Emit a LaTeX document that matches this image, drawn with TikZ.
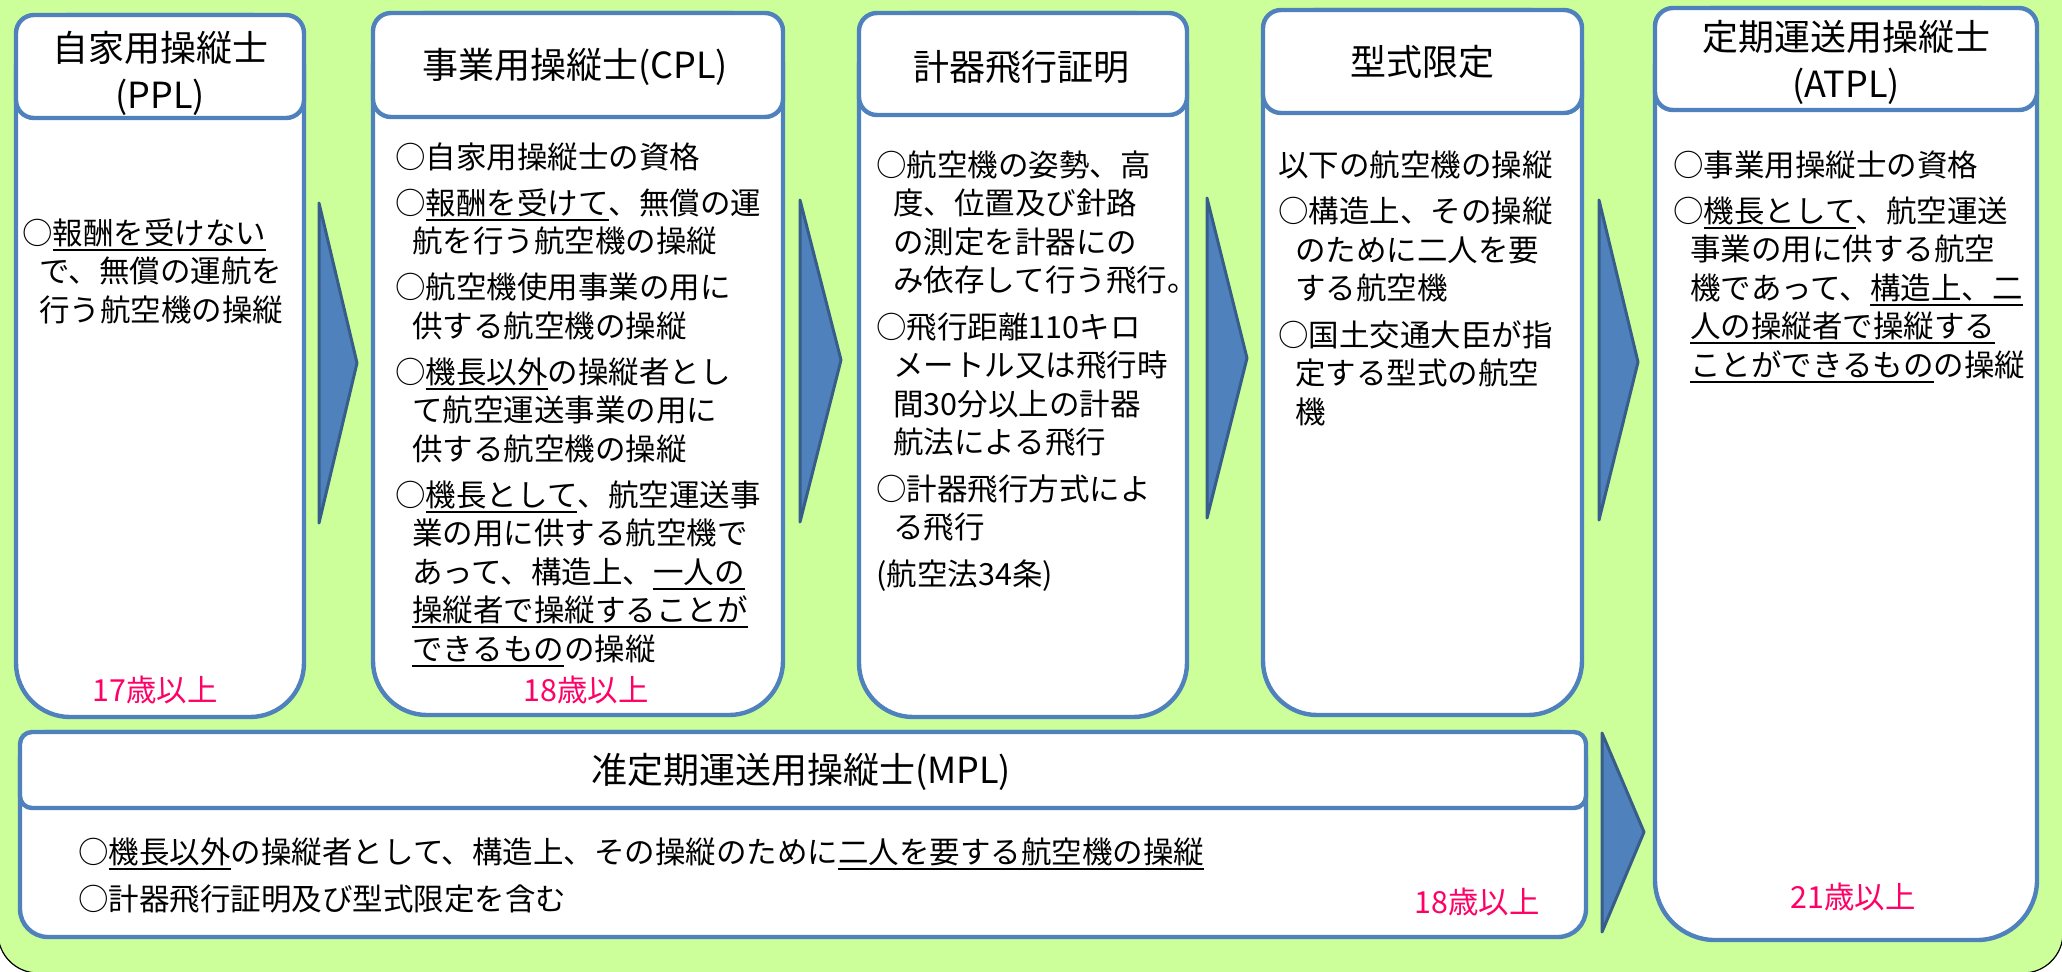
\documentclass[tikz,border=0pt]{standalone}
\usepackage{fontspec}
\setmainfont{Noto Sans CJK JP}
\definecolor{bg}{HTML}{CCFF99}
\definecolor{bline}{HTML}{4F81BD}
\definecolor{afill}{HTML}{4F81BD}
\definecolor{aline}{HTML}{385D8A}
\definecolor{agepink}{HTML}{FF0066}
\newcommand\indt{\hspace*{8.5pt}}
\newcommand\uln[1]{\setbox0\hbox{#1}\rlap{\rule[-3.3pt]{\wd0}{1.1pt}}\box0}
\newcommand\halfmaru{\makebox[0.5em][l]{。}}
\newenvironment{lines}{\renewcommand\arraystretch{1}\setlength\tabcolsep{0pt}\begin{tabular}{@{}l@{}}}{\end{tabular}}
\begin{document}
\begin{tikzpicture}[x=0.5pt,y=-0.5pt,
  boxline/.style={draw=bline, line width=2.2pt, fill=white},
  arrowshape/.style={draw=aline, fill=afill, line width=1.5pt, line join=round},
  title/.style={font=\fontsize{18}{23.5}\selectfont, align=center, inner sep=0pt},
  body/.style={font=\fontsize{15.25}{19.25}\selectfont, anchor=north west, inner sep=0pt},
  age/.style={font=\fontsize{15.2}{17}\selectfont, text=agepink, inner sep=0pt}]
\useasboundingbox (0,0) rectangle (2062,971);
% background
\draw[fill=bg, draw=black, line width=0.6pt, rounded corners=20pt] (-2,-60) rectangle (2063,973);
% PPL
\draw[boxline, rounded corners=27pt] (16,15) rectangle (304,717);
\draw[boxline, rounded corners=9pt] (16,15) rectangle (304,118);
% CPL
\draw[boxline, rounded corners=27pt] (373,13) rectangle (783,715);
\draw[boxline, rounded corners=9pt] (373,13) rectangle (783,117);
% Instrument
\draw[boxline, rounded corners=27pt] (859,13) rectangle (1187,717);
\draw[boxline, rounded corners=9pt] (859,13) rectangle (1187,115);
% Type rating
\draw[boxline, rounded corners=27pt] (1263,10) rectangle (1582,715);
\draw[boxline, rounded corners=9pt] (1263,10) rectangle (1582,113);
% ATPL
\draw[boxline, rounded corners=30pt] (1655,8) rectangle (2037,940);
\draw[boxline, rounded corners=9pt] (1655,8) rectangle (2037,110);
% MPL
\draw[boxline, rounded corners=14pt] (20,732) rectangle (1586,937);
\draw[boxline, rounded corners=6pt] (20,732) rectangle (1586,808);
% arrows
\draw[arrowshape] (319,203) -- (357,363) -- (319,523) -- cycle;
\draw[arrowshape] (800,200) -- (841,360) -- (800,522) -- cycle;
\draw[arrowshape] (1207,198) -- (1247,358) -- (1207,518) -- cycle;
\draw[arrowshape] (1599,200) -- (1638,362) -- (1599,520) -- cycle;
\draw[arrowshape] (1602,733) -- (1644,832) -- (1602,932) -- cycle;
% titles
\node[title] (pplT) at (160,73.5) {自家用操縦士\\(PPL)};
\node[title] (cplT) at (575,67) {事業用操縦士(CPL)};
\node[title] (insT) at (1021,67) {計器飛行証明};
\node[title] (typT) at (1422,62) {型式限定};
\node[title] (atpT) at (1846,62.5) {定期運送用操縦士\\(ATPL)};
\node[title] (mplT) at (801,772) {准定期運送用操縦士(MPL)};
% bodies
\node[body] (pplB) at (22,217) {\begin{lines}○\uln{報酬を受けない}\\
\indt で、無償の運航を\\
\indt 行う航空機の操縦\end{lines}};
\node[body] (cplB) at (395,141) {\begin{lines}○自家用操縦士の資格\\[3.75pt]
○\uln{報酬を受けて}、無償の運\\
\indt 航を行う航空機の操縦\\[3.75pt]
○航空機使用事業の用に\\
\indt 供する航空機の操縦\\[3.75pt]
○\uln{機長以外}の操縦者とし\\
\indt て航空運送事業の用に\\
\indt 供する航空機の操縦\\[3.75pt]
○\uln{機長として}、航空運送事\\
\indt 業の用に供する航空機で\\
\indt あって、構造上、\uln{一人の}\\
\indt \uln{操縦者で操縦することが}\\
\indt \uln{できるもの}の操縦\end{lines}};
\node[body] (insB) at (876,149) {\begin{lines}○航空機の姿勢、高\\
\indt 度、位置及び針路\\
\indt の測定を計器にの\\
\indt み依存して行う飛行\halfmaru\\[4pt]
○飛行距離110キロ\\
\indt メートル又は飛行時\\
\indt 間30分以上の計器\\
\indt 航法による飛行\\[4pt]
○計器飛行方式によ\\
\indt る飛行\\[4pt]
(航空法34条)\end{lines}};
\node[body] (typB) at (1278,149) {\begin{lines}以下の航空機の操縦\\[4pt]
○構造上、その操縦\\
\indt のために二人を要\\
\indt する航空機\\[4pt]
○国土交通大臣が指\\
\indt 定する型式の航空\\
\indt 機\end{lines}};
\node[body] (atpB) at (1673,149) {\begin{lines}○事業用操縦士の資格\\[3.75pt]
○\uln{機長として}、航空運送\\
\indt 事業の用に供する航空\\
\indt 機であって、\uln{構造上、二}\\
\indt \uln{人の操縦者で操縦する}\\
\indt \uln{ことができるもの}の操縦\end{lines}};
\node[body] (mplB) at (78,836) {\begin{lines}○\uln{機長以外}の操縦者として、構造上、その操縦のために\uln{二人を要する航空機の操縦}\\[4.25pt]
○計器飛行証明及び型式限定を含む\end{lines}};
% ages
\node[age] (pplA) at (155,690) {17歳以上};
\node[age] (cplA) at (586,690) {18歳以上};
\node[age] (mplA) at (1477,902) {18歳以上};
\node[age] (atpA) at (1853,897) {21歳以上};
\end{tikzpicture}
\end{document}
